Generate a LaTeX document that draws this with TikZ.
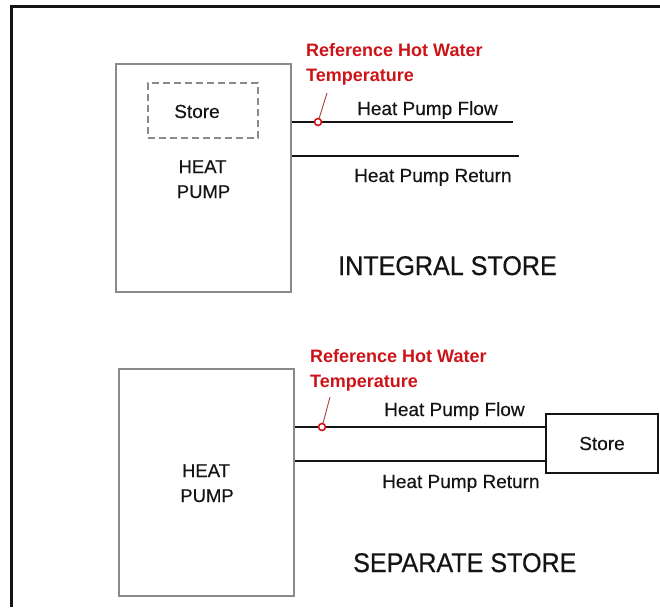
\documentclass[tikz,border=0pt]{standalone}
\usepackage{fontspec}
\setmainfont{Liberation Sans}
\newfontfamily\heavysans{Liberation Sans}[FakeBold=0.35]
\newfontfamily\titlesans{Liberation Sans}[FakeBold=0.5]
\definecolor{refred}{RGB}{204,20,24}
\definecolor{boxgray}{RGB}{138,138,138}
\definecolor{inkblack}{RGB}{20,20,20}
\begin{document}
\begin{tikzpicture}[x=1pt,y=-1pt,
  hpbox/.style={draw=boxgray, line width=1.6pt, inner sep=0},
  dashbox/.style={draw=boxgray, line width=1.6pt, dash pattern=on 7pt off 4pt, inner sep=0},
  storebox/.style={draw=inkblack, line width=2pt, inner sep=0, font=\heavysans\fontsize{19}{23}\selectfont, text=inkblack},
  pipe/.style={draw=inkblack, line width=2.4pt},
  sensor/.style={circle, draw=refred, fill=white, line width=1.6pt, minimum size=7pt, inner sep=0},
  leader/.style={draw=refred!70!black!80, line width=0.9pt},
  lbl/.style={font=\heavysans\fontsize{19}{23}\selectfont, inner sep=0, anchor=base west, text=inkblack},
  reflbl/.style={font=\bfseries\fontsize{18}{22}\selectfont, inner sep=0, anchor=base west, text=refred},
  hplbl/.style={font=\heavysans\fontsize{18.5}{22}\selectfont, inner sep=0, anchor=base, text=inkblack},
  titlelbl/.style={font=\titlesans\fontsize{27}{32}\selectfont, xscale=0.93, inner sep=0, anchor=base west, text=inkblack}
]
\useasboundingbox (0,0) rectangle (660,607);
% frame
\draw[line width=3pt, inkblack] (11,607) -- (11,7) -- (660,7);

% ---------- INTEGRAL STORE ----------
\node[hpbox, minimum width=175pt, minimum height=228pt] (hpTop) at (203.5,178) {};
\node[dashbox, minimum width=110pt, minimum height=55pt] (dstore) at (203,110.5) {};
\node[lbl, anchor=base] (dstoreTxt) at (197,118) {Store};
\node[hplbl] (heatT) at (202.5,173) {HEAT};
\node[hplbl] (pumpT) at (203.5,198) {PUMP};

\coordinate (flowEndT) at (513,122);
\coordinate (retEndT) at (519,156);
\draw[pipe] (flowEndT -| hpTop.east) -- (flowEndT);
\draw[pipe] (retEndT -| hpTop.east) -- (retEndT);

\coordinate (leadT) at (327,93);
\node[sensor] (sensT) at (318,122) {};
\draw[leader] (sensT) -- (leadT);

\node[reflbl] (refT1) at (306,57) {Reference Hot Water};
\node[reflbl] (refT2) at (306,82) {Temperature};
\node[lbl] (flowLblT) at (357,115) {Heat Pump Flow};
\node[lbl] (retLblT) at (354,182) {Heat Pump Return};
\node[titlelbl] (titleT) at (338,275) {INTEGRAL STORE};

% ---------- SEPARATE STORE ----------
\node[hpbox, minimum width=175pt, minimum height=227pt] (hpBot) at (206.5,482.5) {};
\node[hplbl] (heatB) at (206,477) {HEAT};
\node[hplbl] (pumpB) at (207,502) {PUMP};
\node[storebox, minimum width=112pt, minimum height=59pt] (storeB) at (602,443.5) {Store};

\coordinate (flowB) at (546,427);
\coordinate (retB) at (546,461);
\draw[pipe] (flowB -| hpBot.east) -- (flowB -| storeB.west);
\draw[pipe] (retB -| hpBot.east) -- (retB -| storeB.west);

\coordinate (leadB) at (330,397);
\node[sensor] (sensB) at (322,427) {};
\draw[leader] (sensB) -- (leadB);

\node[reflbl] (refB1) at (310,362) {Reference Hot Water};
\node[reflbl] (refB2) at (310,387) {Temperature};
\node[lbl] (flowLblB) at (384,416) {Heat Pump Flow};
\node[lbl] (retLblB) at (382,488) {Heat Pump Return};
\node[titlelbl] (titleB) at (353,572) {SEPARATE STORE};
\end{tikzpicture}
\end{document}
